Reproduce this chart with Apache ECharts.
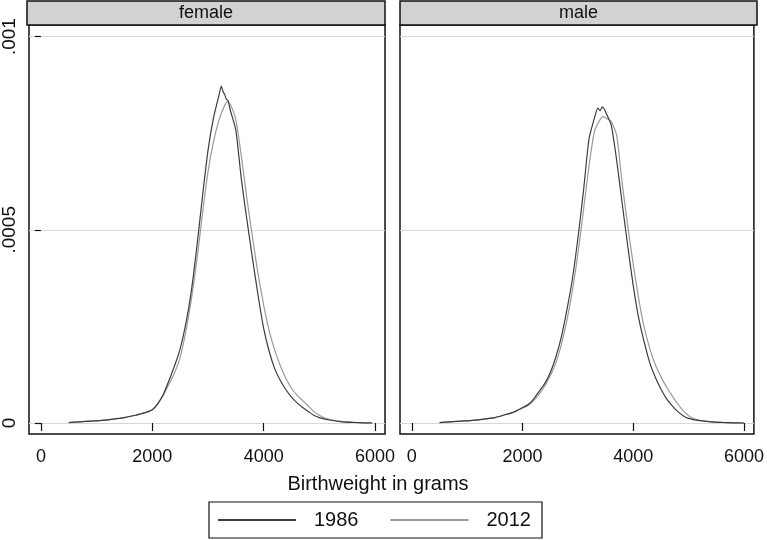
<!DOCTYPE html>
<html>
<head>
<meta charset="utf-8">
<script src="https://cdn.jsdelivr.net/npm/echarts@6/dist/echarts.min.js"></script>
<style>html,body{margin:0;padding:0;background:#fff}#c{width:767px;height:540px}</style>
</head>
<body>
<div id="c"></div>
<script>
// Panels and legend
const panels = ['female', 'male'];
const seriesNames = ['1986', '2012'];
// Tick values and labels
const xTickValues = [0, 2000, 4000, 6000];
const yTickValues = [0, 0.0005, 0.001];
const yTickLabels = ['0', '.0005', '.001'];
// Density values are in units of 1e-6 (per gram)
const femaleX1986 = [500,700,900,1100,1300,1500,1700,1800,1900,2000,2100,2200,2300,2400,2500,2600,2700,2800,2900,3000,3100,3200,3240,3270,3300,3330,3360,3400,3500,3600,3700,3800,3900,4000,4100,4200,4300,4400,4500,4600,4700,4800,4900,5000,5200,5400,5600,5800,5950];
const femaleY1986 = [1,3,5,7,10,14,20,24,28,34,50,75,110,148,192,255,340,455,585,705,790,850,872,858,850,838,835,810,758,630,525,425,330,245,185,140,110,86,67,52,40,30,20,14,7,3,1.5,0.5,0];
const femaleX2012 = [500,700,900,1100,1300,1500,1700,1800,1900,2000,2100,2200,2300,2400,2500,2600,2700,2800,2900,3000,3100,3200,3300,3350,3400,3500,3600,3700,3800,3900,4000,4100,4200,4300,4400,4500,4600,4700,4800,4900,5000,5100,5200,5400,5600,5800,5950];
const femaleY2012 = [1,3,5,7,10,14,20,24,28,34,50,72,100,130,170,235,318,420,540,650,728,785,822,831,825,785,690,580,480,385,305,238,188,148,115,90,72,58,44,30,20,13,9,4,2,0.5,0];
const maleX1986 = [500,700,900,1100,1300,1500,1700,1800,1900,2000,2100,2200,2300,2400,2500,2600,2700,2800,2900,3000,3100,3200,3300,3360,3400,3440,3480,3500,3600,3700,3800,3900,4000,4100,4200,4300,4400,4500,4600,4700,4800,4900,5000,5200,5400,5600,5800,6000];
const maleY1986 = [1,3,5,7,10,14,22,26,32,40,48,62,82,102,130,170,222,292,372,478,600,735,790,815,808,818,812,805,772,680,568,458,355,270,208,155,118,88,63,45,30,19,12,6,3,1.5,0.5,0];
const maleX2012 = [500,700,900,1100,1300,1500,1700,1800,1900,2000,2100,2200,2300,2400,2500,2600,2700,2800,2900,3000,3100,3200,3300,3400,3450,3500,3600,3700,3800,3900,4000,4100,4200,4300,4400,4500,4600,4700,4800,4900,5000,5100,5200,5400,5600,5800,6000];
const maleY2012 = [1,3,5,7,10,14,22,26,32,38,45,58,75,95,122,155,203,265,342,438,550,665,755,785,793,790,780,745,620,510,410,320,246,192,150,120,93,71,50,32,19,11,7,3.5,1.5,0.5,0];

function pairs(xs, ys) { return xs.map((x, i) => [x, ys[i] * 1e-6]); }

const FONT = "'Liberation Sans', Arial, sans-serif";
const darkColor = '#3c3c3c';
const lightColor = '#9a9a9a';

const grids = [
  { left: 27, top: 25, width: 358, height: 409 },
  { left: 400, top: 25, width: 357, height: 409 }
];

const xAxes = grids.map((g, i) => ({
  type: 'value', gridIndex: i, min: -214, max: 6179,
  axisLine: { show: false },
  splitLine: { show: false },
  axisTick: { show: true, length: 8, customValues: xTickValues, lineStyle: { color: '#111', width: 1.2 } },
  axisLabel: { customValues: xTickValues, margin: 14, fontSize: 18, color: '#111', fontFamily: FONT, formatter: v => String(v) }
}));

const yAxes = grids.map((g, i) => ({
  type: 'value', gridIndex: i, min: -0.0000285, max: 0.00103,
  axisLine: { show: false },
  splitLine: { show: true, lineStyle: { color: '#d8d8d8', width: 1 } },
  axisTick: { show: true, length: i === 0 ? 6 : 0, customValues: yTickValues, lineStyle: { color: '#111', width: 1.2 } },
  axisLabel: {
    show: i === 0, customValues: yTickValues, rotate: 90, margin: 10, fontSize: 19, color: '#111', fontFamily: FONT,
    formatter: v => { const k = yTickValues.indexOf(v); return k >= 0 ? yTickLabels[k] : ''; }
  }
}));

const series = [];
const data = [
  [pairs(femaleX1986, femaleY1986), pairs(femaleX2012, femaleY2012)],
  [pairs(maleX1986, maleY1986), pairs(maleX2012, maleY2012)]
];
grids.forEach((g, i) => {
  series.push({
    type: 'line', name: seriesNames[1], xAxisIndex: i, yAxisIndex: i, data: data[i][1],
    showSymbol: false, symbol: 'none', smooth: 0.2, z: 2,
    lineStyle: { color: lightColor, width: 1.2 }, itemStyle: { color: lightColor }
  });
  series.push({
    type: 'line', name: seriesNames[0], xAxisIndex: i, yAxisIndex: i, data: data[i][0],
    showSymbol: false, symbol: 'none', smooth: 0.2, z: 3,
    lineStyle: { color: darkColor, width: 1.2 }, itemStyle: { color: darkColor }
  });
});

const graphics = [];
grids.forEach((g, i) => {
  graphics.push({
    type: 'rect', shape: { x: g.left, y: 1, width: g.width, height: 24 },
    style: { fill: '#d2d2d2', stroke: '#111', lineWidth: 1.5 }, z: 10
  });
  graphics.push({
    type: 'text', x: g.left + g.width / 2, y: 13, z: 11,
    style: { text: panels[i], fill: '#111', font: "18px " + FONT, textAlign: 'center', textVerticalAlign: 'middle' }
  });
});
graphics.push({
  type: 'text', x: 378, y: 484, z: 11,
  style: { text: 'Birthweight in grams', fill: '#111', font: "20px " + FONT, textAlign: 'center', textVerticalAlign: 'middle' }
});

const chart = echarts.init(document.getElementById('c'), null, { renderer: 'canvas' });
chart.setOption({
  animation: false,
  backgroundColor: '#fff',
  grid: grids.map(g => Object.assign({ show: true, backgroundColor: '#fff', borderColor: '#111', borderWidth: 1.5 }, g)),
  xAxis: xAxes,
  yAxis: yAxes,
  legend: {
    data: seriesNames, left: 209, top: 502, icon: 'rect',
    borderColor: '#111', borderWidth: 1.2, padding: [8, 11, 8, 9],
    itemWidth: 78, itemHeight: 2, itemGap: 32,
    textStyle: { fontSize: 20, color: '#111', fontFamily: FONT, padding: [0, 0, 0, 13] }
  },
  graphic: graphics,
  series: series
});
</script>
</body>
</html>
